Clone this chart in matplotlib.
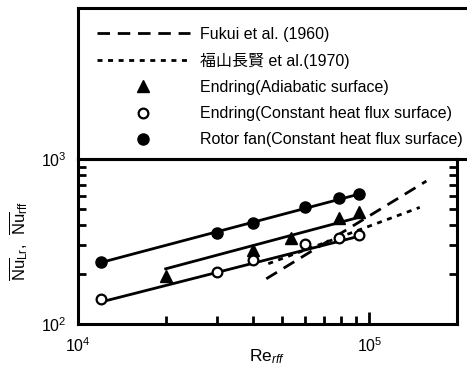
import matplotlib
matplotlib.use("Agg")
import matplotlib.pyplot as plt
from matplotlib.font_manager import FontProperties
from matplotlib.ticker import LogLocator, NullFormatter

plt.rcParams['font.family'] = ['Liberation Sans', 'Noto Sans CJK JP', 'DejaVu Sans']
plt.rcParams['mathtext.fontset'] = 'custom'
plt.rcParams['mathtext.rm'] = 'Liberation Sans'
plt.rcParams['mathtext.it'] = 'Liberation Sans:italic'

# --- data ---
re_circle = [1.2e4, 3.0e4, 4.0e4, 6.0e4, 7.9e4, 9.2e4]
nu_rotor = [239, 354, 407, 509, 578, 616]
nu_endring_flux = [142, 207, 245, 307, 334, 344]

re_tri = [2.0e4, 4.0e4, 5.4e4, 7.9e4, 9.2e4]
nu_endring_adia = [196, 282, 334, 436, 475]

# correlation (fit) lines, end points
fit_re_rotor = [1.2e4, 9.2e4]
fit_nu_rotor = [236, 612]
fit_re_flux = [1.2e4, 9.2e4]
fit_nu_flux = [136, 340]
fit_re_adia = [2.0e4, 9.2e4]
fit_nu_adia = [216, 443]

fukui_re = [4.43e4, 1.57e5]
fukui_nu = [188, 735]
fukuyama_re = [4.5e4, 1.49e5]
fukuyama_nu = [232, 509]

labels = ["Fukui et al. (1960)", "福山長賢 et al.(1970)",
          "Endring(Adiabatic surface)", "Endring(Constant heat flux surface)",
          "Rotor fan(Constant heat flux surface)"]

W, H = 467, 366
fig = plt.figure(figsize=(W / 100, H / 100), dpi=100)
ax = fig.add_axes([78 / W, 1 - 324 / H, (457 - 78) / W, (324 - 159) / H])

lw_axis = 2.2
lw_line = 2.0
k = 'black'

h_fukui, = ax.plot(fukui_re, fukui_nu, color=k, lw=lw_line, dashes=(4.5, 2.8),
                   solid_capstyle='butt', dash_capstyle='butt')
h_fuku2, = ax.plot(fukuyama_re, fukuyama_nu, color=k, lw=lw_line, dashes=(1.8, 2.0),
                   dash_capstyle='butt')
ax.plot(fit_re_rotor, fit_nu_rotor, color=k, lw=lw_line)
ax.plot(fit_re_flux, fit_nu_flux, color=k, lw=lw_line)
ax.plot(fit_re_adia, fit_nu_adia, color=k, lw=lw_line)

h_tri, = ax.plot(re_tri, nu_endring_adia, ls='none', marker='^', ms=8.5, color=k)
h_oc, = ax.plot(re_circle, nu_endring_flux, ls='none', marker='o', ms=7, mfc='white',
                mec=k, mew=1.6)
h_fc, = ax.plot(re_circle, nu_rotor, ls='none', marker='o', ms=8, color=k)

ax.set_xscale('log')
ax.set_yscale('log')
ax.set_xlim(1e4, 2e5)
ax.set_ylim(100, 1000)

ax.xaxis.set_major_locator(LogLocator(base=10, numticks=10))
ax.yaxis.set_major_locator(LogLocator(base=10, numticks=10))
ax.xaxis.set_minor_locator(LogLocator(base=10, subs=range(2, 10), numticks=10))
ax.yaxis.set_minor_locator(LogLocator(base=10, subs=range(2, 10), numticks=10))
ax.xaxis.set_minor_formatter(NullFormatter())
ax.yaxis.set_minor_formatter(NullFormatter())

ax.tick_params(which='both', direction='in', top=False, right=True, width=2.0,
               labelsize=11.5, colors=k)
ax.tick_params(which='major', length=9, pad=9)
ax.tick_params(which='minor', length=5.5)
ax.tick_params(axis='y', which='major', pad=8)

for s in ax.spines.values():
    s.set_linewidth(lw_axis)

ax.set_xlabel(r'Re$_{rff}$', fontsize=12.5, labelpad=-6)
ax.set_ylabel(r'$\overline{\rm Nu}_{Lr}$,  $\overline{\rm Nu}_{rff}$', fontsize=12, labelpad=8)

# legend box above the axes
lax = fig.add_axes([78 / W, 1 - 159 / H, 1.0, (159 - 8) / H])
lax.set_xticks([])
lax.set_yticks([])
lax.patch.set_alpha(0)
for s in lax.spines.values():
    s.set_linewidth(lw_axis)

prop = FontProperties(family=['Liberation Sans', 'Noto Sans CJK JP'], size=11.5)
leg = fig.legend([h_fukui, h_fuku2, h_tri, h_oc, h_fc], labels, prop=prop,
                 loc='upper left', bbox_to_anchor=(97 / W, 1 - 27 / H),
                 frameon=False, handlelength=5.8, handletextpad=0.62,
                 labelspacing=0.69, borderpad=0, borderaxespad=0)

fig.savefig('out.png', dpi=100)
